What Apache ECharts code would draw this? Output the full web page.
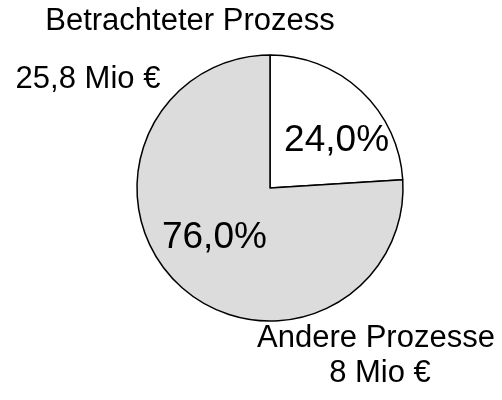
<!DOCTYPE html>
<html>
<head>
<meta charset="utf-8">
<script src="https://cdn.jsdelivr.net/npm/echarts@6/dist/echarts.min.js"></script>
<style>
    html, body { margin: 0; padding: 0; background: #fff; }
    #main { width: 502px; height: 400px; }
</style>
</head>
<body>
<div id="main"></div>
<script>
// Anteile der Prozesse (Prozent)
var names = ['Betrachteter Prozess', 'Andere Prozesse'];
var shares = [24.0, 76.0];
var amounts = ['25,8 Mio €', '8 Mio €'];

var colors = ['#ffffff', '#dcdcdc'];
var labelOffsets = [[19, 3], [-8, -1]];

var font = '"Liberation Sans", Arial, sans-serif';
var outerFont = '31px ' + font;

var pieData = [];
for (var i = 0; i < names.length; i++) {
    pieData.push({
        name: names[i],
        value: shares[i],
        itemStyle: { color: colors[i] },
        label: { offset: labelOffsets[i] }
    });
}

function outerText(txt, cx, top) {
    return {
        type: 'text',
        x: cx,
        y: top,
        style: { text: txt, font: outerFont, fill: '#000', textAlign: 'center', textVerticalAlign: 'top' }
    };
}

var option = {
    backgroundColor: '#ffffff',
    animation: false,
    series: [
        {
            type: 'pie',
            center: [270, 188],
            radius: [0, 133],
            startAngle: 90,
            clockwise: true,
            silent: true,
            itemStyle: {
                borderColor: '#000000',
                borderWidth: 1.5
            },
            label: {
                show: true,
                position: 'inside',
                color: '#000000',
                fontFamily: font,
                fontSize: 37,
                formatter: function (p) {
                    return p.value.toFixed(1).replace('.', ',') + '%';
                }
            },
            labelLine: { show: false },
            data: pieData
        }
    ],
    graphic: [
        // Beschriftung oben / links
        outerText(names[0], 190, 6),
        outerText(amounts[0], 88, 64),
        // Beschriftung unten rechts
        outerText(names[1], 376, 323),
        outerText(amounts[1], 380, 358)
    ]
};

var myChart = echarts.init(document.getElementById('main'), null, { renderer: 'canvas' });
myChart.setOption(option);
</script>
</body>
</html>
